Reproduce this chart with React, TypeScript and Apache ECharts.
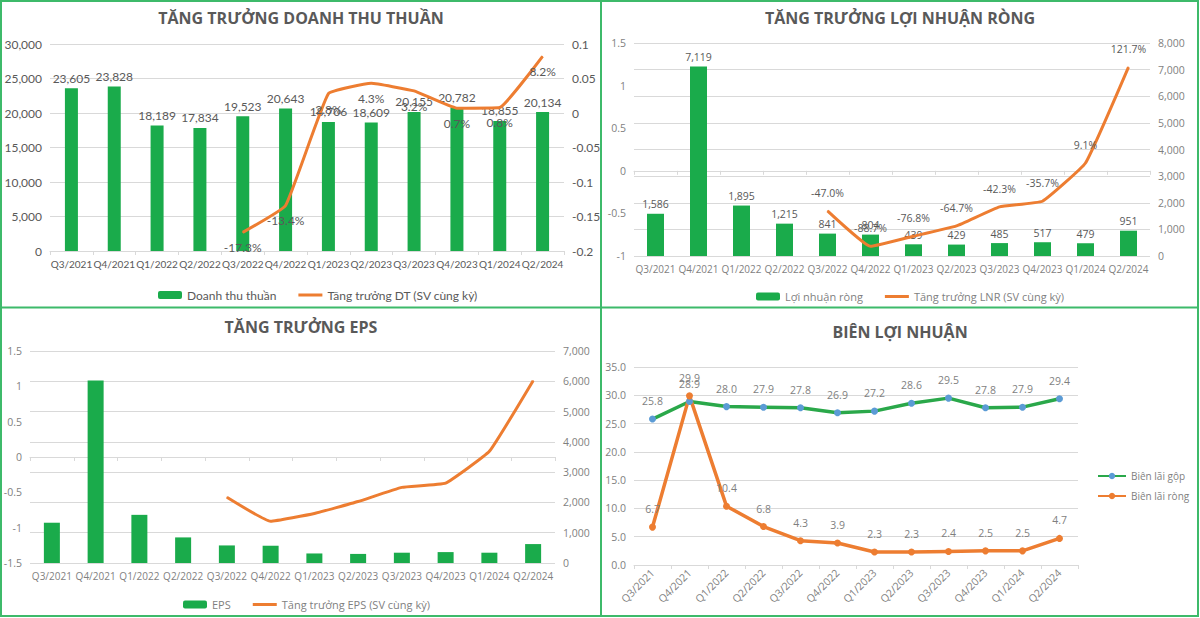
import React, { useEffect, useRef } from 'react';
import * as echarts from 'echarts';

const quarters = ['Q3/2021', 'Q4/2021', 'Q1/2022', 'Q2/2022', 'Q3/2022', 'Q4/2022', 'Q1/2023', 'Q2/2023', 'Q3/2023', 'Q4/2023', 'Q1/2024', 'Q2/2024'];
const revenue = [23605, 23828, 18189, 17834, 19523, 20643, 18706, 18609, 20155, 20782, 18855, 20134];
const revenueGrowth = [null, null, null, null, -0.173, -0.134, 0.028, 0.043, 0.032, 0.007, 0.008, 0.082];
const netProfit = [1586, 7119, 1895, 1215, 841, 804, 439, 429, 485, 517, 479, 951];
const netProfitGrowth = [null, null, null, null, -0.47, -0.887, -0.768, -0.647, -0.423, -0.357, 0.091, 1.217];
const eps = [1330, 6030, 1590, 845, 580, 570, 315, 300, 340, 360, 340, 625];
const epsGrowth = [null, null, null, null, -0.57, -0.91, -0.8, -0.63, -0.43, -0.37, 0.08, 1.08];
const grossMargin = [25.8, 28.9, 28.0, 27.9, 27.8, 26.9, 27.2, 28.6, 29.5, 27.8, 27.9, 29.4];
const netMargin = [6.7, 29.9, 10.4, 6.8, 4.3, 3.9, 2.3, 2.3, 2.4, 2.5, 2.5, 4.7];

const GREEN = '#1aab4b';
const ORANGE = '#ed7d31';
const GRID = '#d9d9d9';
const DARK = '#595959';
const LIGHT = '#7f7f7f';
const F1 = 'Lato, sans-serif';
const F2 = '"Open Sans", sans-serif';
const LINE_ICON = 'path://M0,0h24v3h-24z';

const pct = (v: number) => (v * 100).toFixed(1) + '%';
const num = (v: number) => Math.round(v).toLocaleString('en-US');
const dec = (v: number) => String(+(+v).toFixed(2));

function xAx(gridIndex: number, font: string, size: number, color: string, rotate = 0) {
  return {
    type: 'category',
    gridIndex,
    data: quarters,
    boundaryGap: true,
    axisLine: { show: true, lineStyle: { color: GRID } },
    axisTick: { show: true, length: 4, lineStyle: { color: GRID } },
    axisLabel: { color, fontFamily: font, fontSize: size, margin: rotate ? 6 : 8, rotate, interval: 0 },
    splitLine: { show: false },
  };
}

function yAx(gridIndex: number, position: string, min: number, max: number, interval: number, fmt: (v: number) => string, font: string, split: boolean, color = LIGHT, size = 11) {
  return {
    type: 'value',
    gridIndex,
    position,
    min,
    max,
    interval,
    axisLine: { show: false },
    axisTick: { show: false },
    axisLabel: { color, fontFamily: font, fontSize: size, formatter: fmt, margin: 8 },
    splitLine: { show: split, lineStyle: { color: GRID, width: 1 } },
  };
}

export default function App() {
  const ref = useRef<HTMLDivElement>(null);
  useEffect(() => {
    if (!ref.current) return;
    const chart = echarts.init(ref.current, undefined, { renderer: 'svg' });
    const titleStyle = (text: string, x: number, y: number) => ({
      type: 'text',
      x,
      y,
      style: { text, align: 'center', verticalAlign: 'middle', fill: DARK, font: 'bold 16px "Open Sans", sans-serif' },
    });
    const growthLine = (name: string, xi: number, yi: number, data: any[], label: any) => ({
      name, type: 'line', xAxisIndex: xi, yAxisIndex: yi, data,
      smooth: 0.1, symbol: 'circle', symbolSize: 1, showSymbol: true,
      lineStyle: { color: ORANGE, width: 3 }, itemStyle: { color: ORANGE },
      label,
    });
    const option: any = {
      animation: false,
      backgroundColor: '#ffffff',
      grid: [
        { left: 50, top: 44, width: 514, height: 207 },
        { left: 634, top: 43, width: 516, height: 213 },
        { left: 30, top: 351, width: 525, height: 212 },
        { left: 634, top: 367, width: 444, height: 198 },
      ],
      xAxis: [xAx(0, F1, 10, DARK), xAx(1, F2, 10, LIGHT), xAx(2, F2, 10, LIGHT), xAx(3, F2, 10.5, LIGHT, 45)],
      yAxis: [
        yAx(0, 'left', 0, 30000, 5000, num, F1, true, DARK, 12),
        yAx(0, 'right', -0.2, 0.1, 0.05, dec, F1, false, DARK, 12),
        yAx(1, 'left', -1, 1.5, 0.5, dec, F2, false, LIGHT, 10.5),
        yAx(1, 'right', 0, 8000, 1000, num, F2, true, LIGHT, 10.5),
        yAx(2, 'left', -1.5, 1.5, 0.5, dec, F2, false, LIGHT, 10.5),
        yAx(2, 'right', 0, 7000, 1000, num, F2, true, LIGHT, 10.5),
        yAx(3, 'left', 0, 35, 5, (v: number) => (+v).toFixed(1), F2, true, LIGHT, 10.5),
      ],
      legend: [
        {
          data: [{ name: 'Doanh thu thuần' }, { name: 'Tăng trưởng DT (SV cùng kỳ)', icon: LINE_ICON }],
          left: 153, top: 284, itemWidth: 24, itemHeight: 8, itemGap: 22,
          textStyle: { color: DARK, fontFamily: F1, fontSize: 12 },
        },
        {
          data: [{ name: 'Lợi nhuận ròng' }, { name: 'Tăng trưởng LNR (SV cùng kỳ)', icon: LINE_ICON }],
          left: 751, top: 286, itemWidth: 24, itemHeight: 8, itemGap: 22,
          textStyle: { color: LIGHT, fontFamily: F2, fontSize: 11 },
        },
        {
          data: [{ name: 'EPS' }, { name: 'Tăng trưởng EPS (SV cùng kỳ)', icon: LINE_ICON }],
          left: 178, top: 594, itemWidth: 24, itemHeight: 8, itemGap: 22,
          textStyle: { color: LIGHT, fontFamily: F2, fontSize: 11 },
        },
        {
          data: ['Biên lãi gộp', 'Biên lãi ròng'],
          orient: 'vertical', left: 1092, top: 466, itemWidth: 28, itemHeight: 8, itemGap: 10,
          textStyle: { color: LIGHT, fontFamily: F2, fontSize: 10 },
        },
      ],
      graphic: [
        { type: 'rect', shape: { x: 1, y: 1, width: 1197, height: 615 }, style: { fill: 'none', stroke: '#3dba6a', lineWidth: 2 } },
        { type: 'line', shape: { x1: 601, y1: 1, x2: 601, y2: 616 }, style: { stroke: '#3dba6a', lineWidth: 2 } },
        { type: 'line', shape: { x1: 1, y1: 307.5, x2: 1198, y2: 307.5 }, style: { stroke: '#3dba6a', lineWidth: 2 } },
        titleStyle('TĂNG TRƯỞNG DOANH THU THUẦN', 301, 18),
        titleStyle('TĂNG TRƯỞNG LỢI NHUẬN RÒNG', 900, 18),
        titleStyle('TĂNG TRƯỞNG EPS', 301, 327),
        titleStyle('BIÊN LỢI NHUẬN', 900, 332),
      ],
      series: [
        {
          name: 'Doanh thu thuần', type: 'bar', xAxisIndex: 0, yAxisIndex: 0, data: revenue, barWidth: 13,
          itemStyle: { color: GREEN },
          label: { show: true, position: 'top', distance: 4, color: DARK, fontFamily: F1, fontSize: 12, formatter: (p: any) => num(p.value) },
        },
        growthLine('Tăng trưởng DT (SV cùng kỳ)', 0, 1, revenueGrowth,
          { show: true, position: 'bottom', distance: 9, color: DARK, fontFamily: F1, fontSize: 12, formatter: (p: any) => pct(p.value) }),
        {
          name: 'Lợi nhuận ròng', type: 'bar', xAxisIndex: 1, yAxisIndex: 3, data: netProfit, barWidth: 17,
          itemStyle: { color: GREEN },
          label: { show: true, position: 'top', distance: 4, color: DARK, fontFamily: F2, fontSize: 10.5, formatter: (p: any) => num(p.value) },
        },
        growthLine('Tăng trưởng LNR (SV cùng kỳ)', 1, 2, netProfitGrowth,
          { show: true, position: 'top', distance: 12, color: DARK, fontFamily: F2, fontSize: 10.5, formatter: (p: any) => pct(p.value) }),
        {
          name: 'EPS', type: 'bar', xAxisIndex: 2, yAxisIndex: 5, data: eps, barWidth: 16,
          itemStyle: { color: GREEN },
        },
        growthLine('Tăng trưởng EPS (SV cùng kỳ)', 2, 4, epsGrowth, { show: false }),
        {
          name: 'Biên lãi gộp', type: 'line', xAxisIndex: 3, yAxisIndex: 6, data: grossMargin,
          symbol: 'circle', symbolSize: 7, lineStyle: { color: '#2aa84a', width: 3.5 }, itemStyle: { color: '#5b9bd5' },
          label: { show: true, position: 'top', distance: 9, color: LIGHT, fontFamily: F2, fontSize: 10.5, formatter: (p: any) => (+p.value).toFixed(1) },
        },
        {
          name: 'Biên lãi ròng', type: 'line', xAxisIndex: 3, yAxisIndex: 6, data: netMargin,
          symbol: 'circle', symbolSize: 7, lineStyle: { color: ORANGE, width: 3.5 }, itemStyle: { color: ORANGE },
          label: { show: true, position: 'top', distance: 9, color: LIGHT, fontFamily: F2, fontSize: 10.5, formatter: (p: any) => (+p.value).toFixed(1) },
        },
      ],
    };
    chart.setOption(option);
    return () => chart.dispose();
  }, []);
  return <div ref={ref} style={{ position: 'fixed', left: 0, top: 0, width: 1200, height: 618 }} />;
}
